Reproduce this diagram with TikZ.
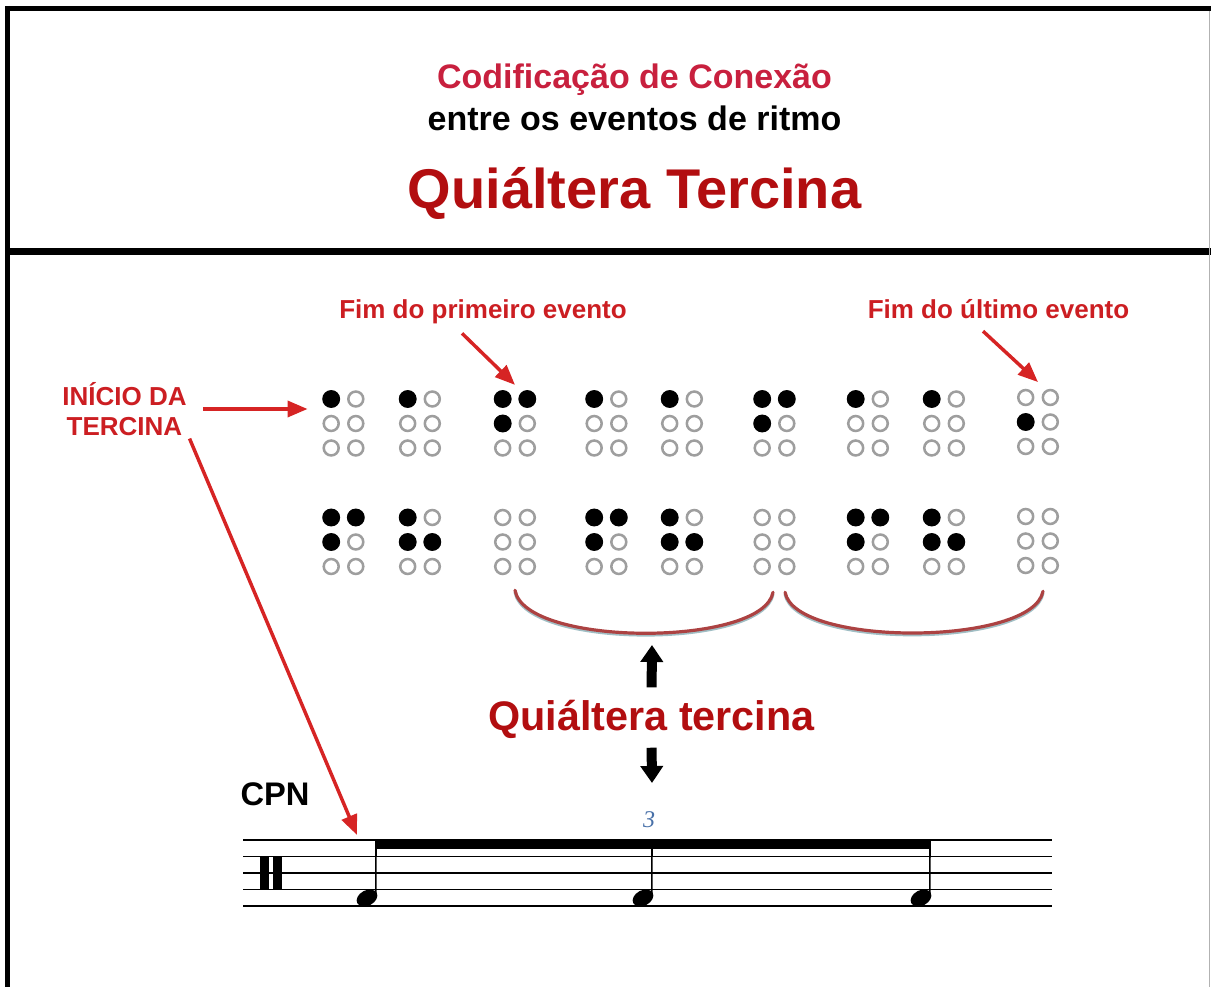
\documentclass[tikz,border=0pt]{standalone}
\usepackage{fontspec}
\setmainfont{Liberation Sans}
\newfontfamily\tupletfont{Liberation Serif}
\usetikzlibrary{arrows.meta,positioning,calc,shapes.geometric}
\definecolor{titlecrimson}{RGB}{200,32,62}
\definecolor{titlered}{RGB}{178,14,16}
\definecolor{labelred}{RGB}{204,30,34}
\definecolor{arrowred}{RGB}{214,36,36}
\definecolor{bracered}{RGB}{172,66,66}
\definecolor{braceshade}{RGB}{160,190,196}
\definecolor{ringgray}{RGB}{158,158,158}
\definecolor{tupletblue}{RGB}{72,112,168}
\tikzset{
  frame/.style={draw=black, line width=4pt},
  headtop/.style={anchor=base, inner sep=0pt, text=titlecrimson,
               font=\bfseries\fontsize{25.5}{30}\selectfont},
  headsub/.style={anchor=base, inner sep=0pt, text=black,
               font=\bfseries\fontsize{25.5}{30}\selectfont},
  headmain/.style={anchor=base, inner sep=0pt, text=titlered,
               font=\bfseries\fontsize{42}{48}\selectfont},
  lbl/.style={inner sep=2pt, text=labelred, align=center,
               font=\bfseries\fontsize{19.5}{22.5}\selectfont},
  midlabel/.style={anchor=base, inner sep=2pt, text=titlered,
               font=\bfseries\fontsize{31}{36}\selectfont},
  cpn/.style={inner sep=0pt, font=\bfseries\fontsize{24.5}{28}\selectfont},
  tuplet/.style={inner sep=0pt, text=tupletblue,
               font=\tupletfont\itshape\fontsize{18}{18}\selectfont},
  redarrow/.style={-{Triangle[length=15pt,width=12pt]}, line width=2.6pt, draw=arrowred},
  blockarrow/.style={-{Triangle[length=12.75pt,width=16.5pt]}, line width=7.5pt, draw=black},
  cellbox/.style={minimum width=31.5pt, minimum height=49.5pt, inner sep=0pt},
  ring/.style={draw=ringgray, line width=1.9pt},
  tiebrace/.style={draw=bracered, line width=2.4pt, line cap=round,
               preaction={draw=braceshade, line width=2.4pt, transform canvas={yshift=-1.3pt}}},
  staffline/.style={draw=black, line width=1pt},
  notestem/.style={draw=black, line width=1.2pt},
  notehead/.style={ellipse, fill=black, minimum width=16.5pt, minimum height=11.5pt,
               inner sep=0pt, rotate=28},
}
% one braille cell: name, centre, raised dots (0 = none)
\newcommand{\braillecell}[3]{%
  \node[cellbox] (#1) at (#2) {};
  \foreach \k in {1,...,6}{
    \pgfmathsetmacro\dx{\k>3 ? 12.3 : -12.3}
    \pgfmathsetmacro\dy{(mod(\k-1,3)-1)*24.5}
    \draw[ring] ($(#1)+(\dx,\dy)$) circle[radius=5.6pt];
  }
  \foreach \k in {#3}{
    \ifnum\k>0
      \pgfmathsetmacro\dx{\k>3 ? 12.3 : -12.3}
      \pgfmathsetmacro\dy{(mod(\k-1,3)-1)*24.5}
      \fill ($(#1)+(\dx,\dy)$) circle[radius=6.7pt];
    \fi
  }
}

\begin{document}
\begin{tikzpicture}[x=0.75pt, y=-0.75pt]
    \useasboundingbox (0,0) rectangle (1211,987);
    % frame
    \draw[frame] (5,8.5) -- (1211,8.5);
    \draw[frame] (7.5,6) -- (7.5,987);
    \draw[frame, line width=4.6pt] (5,251.5) -- (1211,251.5);
    \draw[black!30, line width=0.8pt] (1209.8,11) -- (1209.8,987);

    % heading
    \node[headtop] (head1) at (634.5,89) {Codificação de Conexão};
    \node[headsub] (head2) at (634.5,131) {entre os eventos de ritmo};
    \node[headmain] (head3) at (634.5,209) {Quiáltera Tercina};

    % braille, upper line
    \braillecell{t1}{343.5,423.5}{1}
    \braillecell{t2}{420,423.5}{1}
    \braillecell{t3}{515,423.5}{1,2,4}
    \braillecell{t4}{606.5,423.5}{1}
    \braillecell{t5}{682,423.5}{1}
    \braillecell{t6}{774.5,423.5}{1,2,4}
    \braillecell{t7}{868,423.5}{1}
    \braillecell{t8}{944,423.5}{1}
    \braillecell{t9}{1038,422}{2}
    % braille, lower line
    \braillecell{b1}{343.5,542}{1,2,4}
    \braillecell{b2}{420,542}{1,2,5}
    \braillecell{b3}{515,542}{0}
    \braillecell{b4}{606.5,542}{1,2,4}
    \braillecell{b5}{682,542}{1,2,5}
    \braillecell{b6}{774.5,542}{0}
    \braillecell{b7}{868,542}{1,2,4}
    \braillecell{b8}{944,542}{1,2,5}
    \braillecell{b9}{1038,541}{0}

    % red labels
    \node[lbl, anchor=base] (fimprim) at (483,319) {Fim do primeiro evento};
    \node[lbl, anchor=base] (fimult) at (998.5,319) {Fim do último evento};
    \node[lbl] (inicio) at (124.5,409) {INÍCIO DA\\TERCINA};
    \coordinate (cpnhit) at (357,835);

    \draw[redarrow] ([xshift=-15.75pt,yshift=-4.5pt]fimprim.south) -- ([yshift=4pt]t3.north);
    \draw[redarrow] ([xshift=-11.6pt,yshift=-6.75pt]fimult.south) -- ([yshift=5pt]t9.north);
    \draw[redarrow, shorten <=10pt, shorten >=11pt] (inicio.east) -- (inicio.east -| t1.west);
    \draw[redarrow] (inicio.south east) -- (cpnhit);

    % tercina braces
    \draw[tiebrace] ([yshift=-11.25pt]b3.south) .. controls +(10,57) and +(-10,55) .. ([xshift=-1.1pt,yshift=-12.75pt]b6.south);
    \draw[tiebrace] ([xshift=7.9pt,yshift=-12.75pt]b6.south) .. controls +(10,55) and +(-10,55) .. ([xshift=3.75pt,yshift=-12.75pt]b9.south);

    \node[midlabel] (qt) at (651.5,730) {Quiáltera tercina};
    \coordinate (uptip) at (652,645);
    \coordinate (downtip) at (652,783);
    \draw[blockarrow, shorten <=7pt] (qt.north) -- (uptip);
    \draw[blockarrow, shorten <=5pt] (qt.south) -- (downtip);

    % staff
    \node[cpn] (cpn) at (275,794) {CPN};
    \foreach \ly in {840,856.5,873,889.5,906}
      \draw[staffline] (243,\ly) -- (1052,\ly);
    \fill (260,856) rectangle (269,889);
    \fill (273,856) rectangle (282,889);

    \node[notehead] (n1) at (367,898) {};
    \node[notehead] (n2) at (643,898) {};
    \node[notehead] (n3) at (921,898) {};
    \coordinate (s1) at (376,841);
    \coordinate (s2) at (652,841);
    \coordinate (s3) at (930,841);
    \draw[notestem] ($(n1)+(8.8,-1.5)$) -- (s1);
    \draw[notestem] ($(n2)+(8.8,-1.5)$) -- (s2);
    \draw[notestem] ($(n3)+(8.8,-1.5)$) -- (s3);
    \fill ($(s1)+(-0.8,-1)$) rectangle ($(s3)+(0.8,7.5)$);
    \node[tuplet] (three) at (649,820) {3};
\end{tikzpicture}
\end{document}
